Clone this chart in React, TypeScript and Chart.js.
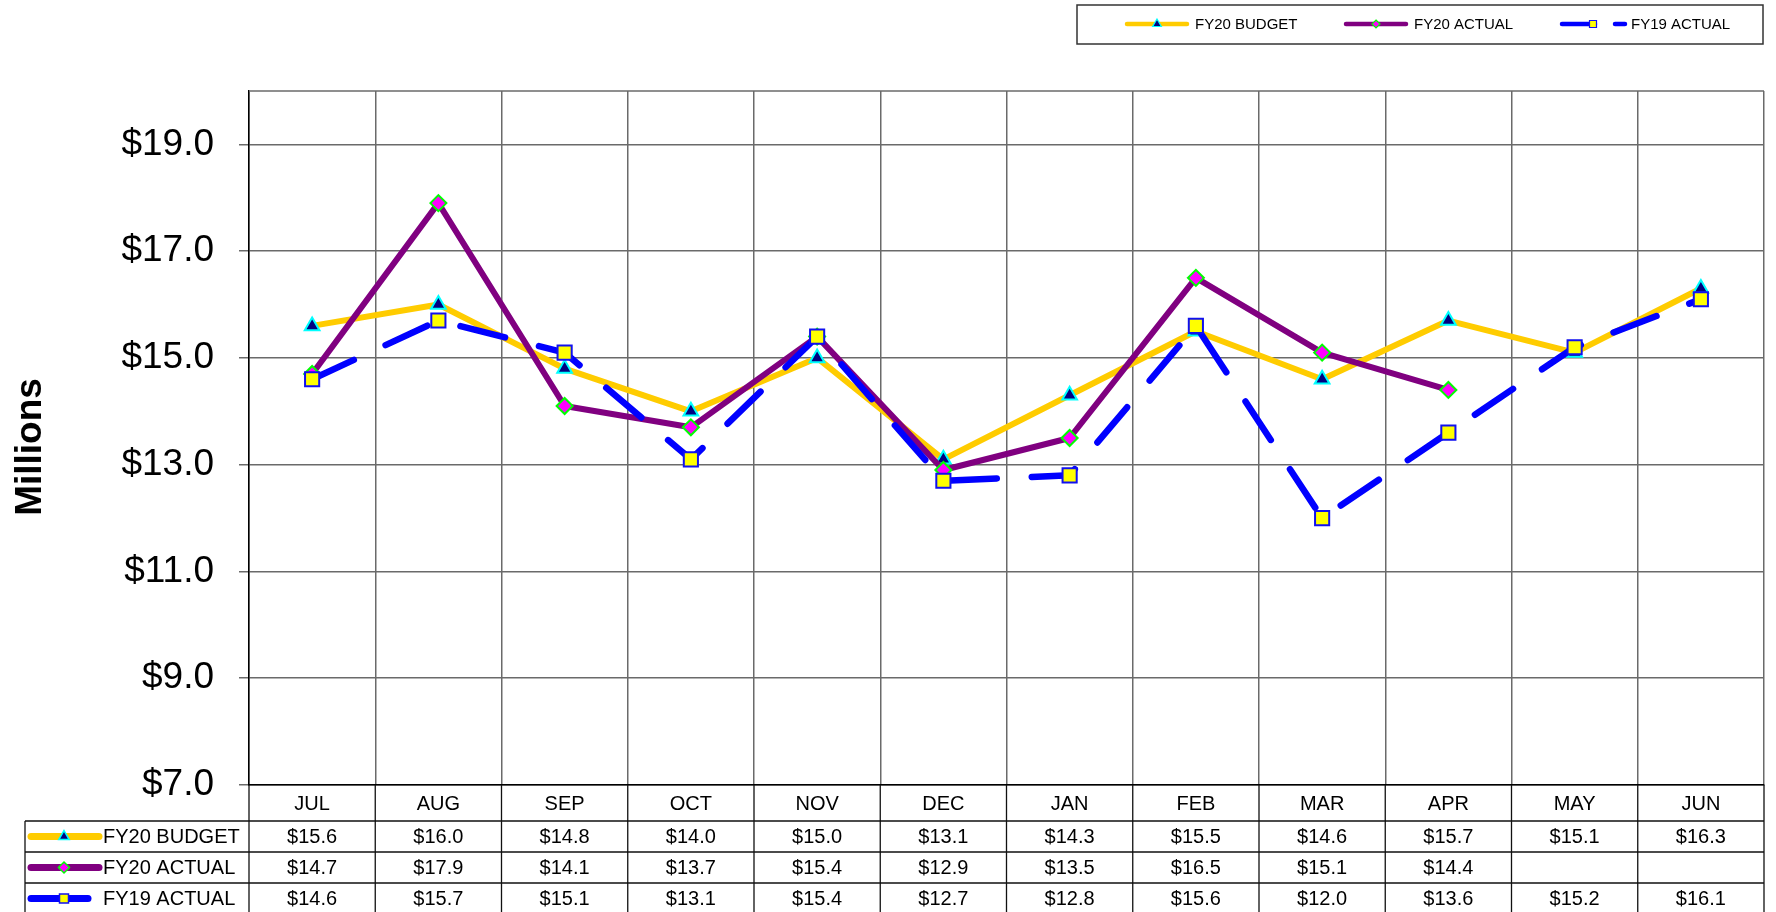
import React, { useEffect, useRef } from 'react';
import { Chart, registerables } from 'chart.js';

Chart.register(...registerables);

const MONTHS = ['JUL', 'AUG', 'SEP', 'OCT', 'NOV', 'DEC', 'JAN', 'FEB', 'MAR', 'APR', 'MAY', 'JUN'];
const FY20_BUDGET = [15.6, 16.0, 14.8, 14.0, 15.0, 13.1, 14.3, 15.5, 14.6, 15.7, 15.1, 16.3];
const FY20_ACTUAL: (number | null)[] = [14.7, 17.9, 14.1, 13.7, 15.4, 12.9, 13.5, 16.5, 15.1, 14.4, null, null];
const FY19_ACTUAL = [14.6, 15.7, 15.1, 13.1, 15.4, 12.7, 12.8, 15.6, 12.0, 13.6, 15.2, 16.1];
const Y_TICKS = [7, 9, 11, 13, 15, 17, 19];
const SERIES_NAMES = ['FY20 BUDGET', 'FY20 ACTUAL', 'FY19 ACTUAL'];
const Y_TITLE = 'Millions';

const FONT = '"Liberation Sans", Arial, sans-serif';
const GOLD = '#FFCC00';
const PURPLE = '#800080';
const BLUE = '#0000FF';
const GRID = '#6a6a6a';

type Kind = 'tri' | 'dia' | 'sq';

function marker(ctx: CanvasRenderingContext2D, kind: Kind, cx: number, cy: number, r: number, fill: string, stroke: string, lw: number) {
  ctx.save();
  ctx.setLineDash([]);
  ctx.beginPath();
  if (kind === 'tri') {
    ctx.moveTo(cx, cy - r);
    ctx.lineTo(cx + r * 0.866, cy + r * 0.5);
    ctx.lineTo(cx - r * 0.866, cy + r * 0.5);
  } else if (kind === 'dia') {
    ctx.moveTo(cx, cy - r);
    ctx.lineTo(cx + r, cy);
    ctx.lineTo(cx, cy + r);
    ctx.lineTo(cx - r, cy);
  } else {
    ctx.rect(cx - r, cy - r, 2 * r, 2 * r);
  }
  ctx.closePath();
  ctx.fillStyle = fill;
  ctx.fill();
  ctx.lineWidth = lw;
  ctx.strokeStyle = stroke;
  ctx.stroke();
  ctx.restore();
}

function seg(ctx: CanvasRenderingContext2D, x1: number, x2: number, y: number, color: string, w: number, dash: number[] = []) {
  ctx.save();
  ctx.beginPath();
  ctx.setLineDash(dash);
  ctx.lineCap = 'round';
  ctx.strokeStyle = color;
  ctx.lineWidth = w;
  ctx.moveTo(x1, y);
  ctx.lineTo(x2, y);
  ctx.stroke();
  ctx.restore();
}

const SERIES_STYLE: { color: string; kind: Kind; fill: string; stroke: string }[] = [
  { color: GOLD, kind: 'tri', fill: '#000080', stroke: '#00FFFF' },
  { color: PURPLE, kind: 'dia', fill: '#FF00FF', stroke: '#00FF00' },
  { color: BLUE, kind: 'sq', fill: '#FFFF00', stroke: '#1010F0' },
];

const tablePlugin = {
  id: 'tableLegend',
  beforeDatasetsDraw(chart: any) {
    const { ctx, chartArea: a } = chart;
    ctx.save();
    ctx.strokeStyle = GRID;
    ctx.lineWidth = 1.5;
    ctx.beginPath();
    ctx.moveTo(a.left, a.top);
    ctx.lineTo(a.right, a.top);
    ctx.stroke();
    ctx.restore();
  },
  afterDraw(chart: any) {
    const { ctx, chartArea: a } = chart;
    const xs = chart.scales.x;
    const colW = (a.right - a.left) / MONTHS.length;
    const monthTop = a.bottom;
    const monthBot = monthTop + 36;
    const rowH = 31;
    const tableLeft = 25;
    const tableBottom = 914;
    ctx.save();
    // table lines
    ctx.strokeStyle = '#111';
    ctx.lineWidth = 1.3;
    ctx.beginPath();
    for (let r = 0; r < 3; r++) {
      const y = monthBot + r * rowH;
      ctx.moveTo(tableLeft, y);
      ctx.lineTo(a.right, y);
    }
    ctx.moveTo(tableLeft, monthBot);
    ctx.lineTo(tableLeft, tableBottom);
    for (let i = 0; i <= MONTHS.length; i++) {
      const x = a.left + i * colW;
      ctx.moveTo(x, monthTop);
      ctx.lineTo(x, tableBottom);
    }
    ctx.stroke();

    // month labels
    ctx.fillStyle = '#000';
    ctx.font = `20px ${FONT}`;
    ctx.textAlign = 'center';
    ctx.textBaseline = 'middle';
    MONTHS.forEach((m, i) => {
      ctx.fillText(m, xs.getPixelForValue(i), (monthTop + monthBot) / 2 + 1);
    });

    // data rows
    const rows = [FY20_BUDGET, FY20_ACTUAL, FY19_ACTUAL];
    rows.forEach((vals, r) => {
      const cy = monthBot + r * rowH + rowH / 2 + 1;
      vals.forEach((v, i) => {
        if (v === null || v === undefined) return;
        ctx.textAlign = 'center';
        ctx.fillText('$' + v.toFixed(1), xs.getPixelForValue(i), cy);
      });
      const st = SERIES_STYLE[r];
      const lineEnd = r === 2 ? 88 : 99;
      seg(ctx, 31, lineEnd, cy - 1, st.color, 7);
      marker(ctx, st.kind, 64, cy - 1, st.kind === 'tri' ? 6 : st.kind === 'dia' ? 5.5 : 4.5, st.fill, st.stroke, 1.5);
      ctx.fillStyle = '#000';
      ctx.textAlign = 'left';
      ctx.fillText(SERIES_NAMES[r], 103, cy);
    });

    // top legend
    const lx1 = 1077, lx2 = a.right - 1, ly1 = 5, ly2 = 44;
    ctx.fillStyle = '#fff';
    ctx.fillRect(lx1, ly1, lx2 - lx1, ly2 - ly1);
    ctx.strokeStyle = '#333';
    ctx.lineWidth = 1.5;
    ctx.strokeRect(lx1, ly1, lx2 - lx1, ly2 - ly1);
    const ly = 24;
    const entries = [
      { x1: 1127, x2: 1187, m: 1157, tx: 1195, dash: [] as number[] },
      { x1: 1346, x2: 1406, m: 1376, tx: 1414, dash: [] as number[] },
      { x1: 1562, x2: 1625, m: 1593, tx: 1631, dash: [33, 20] },
    ];
    ctx.font = `15px ${FONT}`;
    entries.forEach((e, i) => {
      const st = SERIES_STYLE[i];
      seg(ctx, e.x1, e.x2, ly, st.color, 4.5, e.dash);
      marker(ctx, st.kind, e.m, ly, st.kind === 'tri' ? 5 : st.kind === 'dia' ? 4 : 3.5, st.fill, st.stroke, 1.2);
      ctx.fillStyle = '#000';
      ctx.textAlign = 'left';
      ctx.textBaseline = 'middle';
      ctx.fillText(SERIES_NAMES[i], e.tx, ly + 1);
    });

    // y title
    ctx.save();
    ctx.translate(31, 447);
    ctx.rotate(-Math.PI / 2);
    ctx.font = `bold 37px ${FONT}`;
    ctx.fillStyle = '#000';
    ctx.textAlign = 'center';
    ctx.textBaseline = 'middle';
    ctx.fillText(Y_TITLE, 0, 0);
    ctx.restore();

    ctx.restore();
  },
};

export default function App() {
  const ref = useRef<HTMLCanvasElement>(null);
  useEffect(() => {
    document.body.style.margin = '0';
    document.body.style.overflow = 'hidden';
    const chart = new Chart(ref.current as HTMLCanvasElement, {
      type: 'line',
      data: {
        labels: MONTHS,
        datasets: [
          {
            label: SERIES_NAMES[0],
            data: FY20_BUDGET,
            borderColor: GOLD,
            backgroundColor: GOLD,
            borderWidth: 6,
            borderJoinStyle: 'round',
            borderCapStyle: 'round',
            tension: 0,
            pointStyle: 'triangle',
            pointRadius: 8.5,
            pointBackgroundColor: '#000080',
            pointBorderColor: '#00FFFF',
            pointBorderWidth: 2,
            order: 3,
          },
          {
            label: SERIES_NAMES[1],
            data: FY20_ACTUAL,
            borderColor: PURPLE,
            backgroundColor: PURPLE,
            borderWidth: 6,
            borderJoinStyle: 'round',
            borderCapStyle: 'round',
            tension: 0,
            pointStyle: 'rectRot',
            pointRadius: 8,
            pointBackgroundColor: '#FF00FF',
            pointBorderColor: '#00FF00',
            pointBorderWidth: 2,
            order: 2,
          },
          {
            label: SERIES_NAMES[2],
            data: FY19_ACTUAL,
            borderColor: BLUE,
            backgroundColor: BLUE,
            borderWidth: 6.5,
            borderDash: [46, 35],
            borderJoinStyle: 'round',
            borderCapStyle: 'round',
            tension: 0,
            pointStyle: 'rect',
            pointRadius: 10,
            pointBackgroundColor: '#FFFF00',
            pointBorderColor: '#1010F0',
            pointBorderWidth: 2,
            order: 1,
          },
        ],
      } as any,
      options: {
        animation: false,
        responsive: true,
        maintainAspectRatio: false,
        layout: { padding: { top: 91, right: 7, left: 0, bottom: 0 } },
        plugins: { legend: { display: false }, tooltip: { enabled: false } },
        scales: {
          x: {
            offset: true,
            grid: { offset: true, color: GRID, lineWidth: 1.5, drawTicks: false },
            border: { color: '#000', width: 1.5 },
            ticks: { display: false },
            afterFit: (s: any) => {
              s.height = 127;
            },
          },
          y: {
            min: 7,
            max: 20,
            afterBuildTicks: (s: any) => {
              s.ticks = Y_TICKS.map((v) => ({ value: v }));
            },
            grid: { color: GRID, lineWidth: 1.5, tickLength: 10 },
            border: { color: '#000', width: 1.5 },
            ticks: {
              font: { family: FONT, size: 37 },
              color: '#000',
              padding: 25,
              callback: (v: any) => '$' + Number(v).toFixed(1),
            },
            afterFit: (s: any) => {
              s.width = 249;
            },
          },
        },
      } as any,
      plugins: [tablePlugin],
    });
    return () => chart.destroy();
  }, []);
  return (
    <div style={{ width: 1776, height: 912, position: 'relative' }}>
      <canvas ref={ref} />
    </div>
  );
}
